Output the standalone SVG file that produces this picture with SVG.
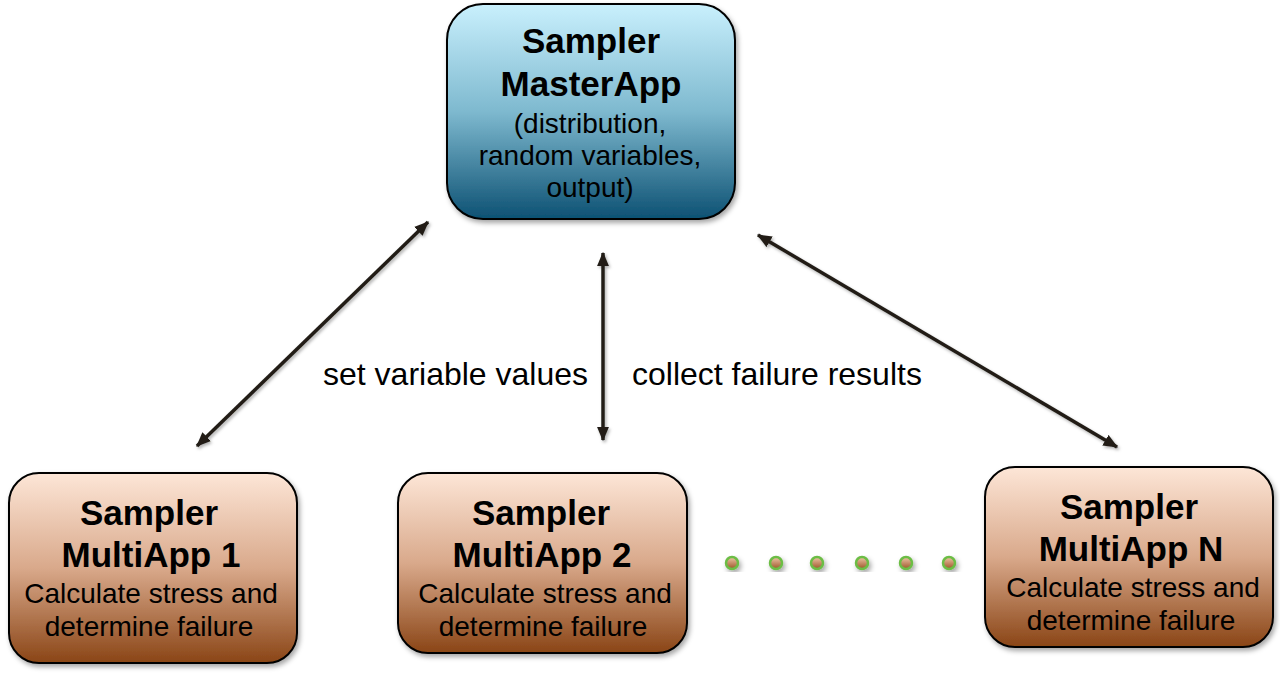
<svg xmlns="http://www.w3.org/2000/svg" width="1280" height="676" viewBox="0 0 1280 676">
  <style>
    .box { stroke: #000; stroke-width: 2; }
    .t { font-family: "Liberation Sans", Arial, sans-serif; fill: #000; text-anchor: middle; }
    .b { font-weight: bold; font-size: 35px; }
    .r { font-size: 28px; }
    .lbl { font-family: "Liberation Sans", Arial, sans-serif; font-size: 32px; fill: #000; }
    .conn { stroke: #221f18; stroke-width: 3.5; fill: none; }
    .dot { stroke: #6cbd45; stroke-width: 2.5; fill: url(#dotg); }
  </style>
  <defs>
    <linearGradient id="blue" x1="0" y1="0" x2="0" y2="1">
      <stop offset="0" stop-color="#c9f0fd"/>
      <stop offset="0.5" stop-color="#7eb9cf"/>
      <stop offset="1" stop-color="#0d5173"/>
    </linearGradient>
    <linearGradient id="brown" x1="0" y1="0" x2="0" y2="1">
      <stop offset="0" stop-color="#fde6d7"/>
      <stop offset="0.5" stop-color="#d9a98b"/>
      <stop offset="1" stop-color="#8a4516"/>
    </linearGradient>
    <linearGradient id="dotg" x1="0" y1="0" x2="0" y2="1">
      <stop offset="0" stop-color="#f0c8a8"/>
      <stop offset="1" stop-color="#9c5428"/>
    </linearGradient>
    <filter id="sh" x="-10%" y="-10%" width="130%" height="130%">
      <feDropShadow dx="2" dy="3" stdDeviation="2.5" flood-color="#000" flood-opacity="0.35"/>
    </filter>
    <filter id="lsh" x="-10%" y="-10%" width="130%" height="130%">
      <feDropShadow dx="1.5" dy="2" stdDeviation="1.5" flood-color="#000" flood-opacity="0.3"/>
    </filter>
    <marker id="ah" viewBox="0 0 12 10" refX="11" refY="5" markerWidth="4.2" markerHeight="3.6" orient="auto-start-reverse" markerUnits="strokeWidth">
      <path d="M0,0 L12,5 L0,10 z" fill="#221f18"/>
    </marker>
  </defs>

  <g id="connectors" filter="url(#lsh)">
    <line class="conn" x1="197" y1="446" x2="428" y2="222" marker-start="url(#ah)" marker-end="url(#ah)"/>
    <line class="conn" x1="603" y1="253" x2="603" y2="440" marker-start="url(#ah)" marker-end="url(#ah)"/>
    <line class="conn" x1="758" y1="235" x2="1117" y2="447" marker-start="url(#ah)" marker-end="url(#ah)"/>
  </g>

  <g id="labels">
    <text class="lbl" x="323" y="385">set variable values</text>
    <text class="lbl" x="632" y="385">collect failure results</text>
  </g>

  <g id="master">
    <rect class="box" x="447" y="4" width="288" height="215" rx="36" fill="url(#blue)" filter="url(#sh)"/>
    <text class="t b" x="591" y="53">Sampler</text>
    <text class="t b" x="591" y="96">MasterApp</text>
    <text class="t r" x="590" y="133">(distribution,</text>
    <text class="t r" x="590" y="165">random variables,</text>
    <text class="t r" x="590" y="197">output)</text>
  </g>

  <g id="multiapp1">
    <rect class="box" x="9" y="473" width="288" height="190" rx="30" fill="url(#brown)" filter="url(#sh)"/>
    <text class="t b" x="149" y="525">Sampler</text>
    <text class="t b" x="151" y="567">MultiApp 1</text>
    <text class="t r" x="151" y="603">Calculate stress and</text>
    <text class="t r" x="149" y="636">determine failure</text>
  </g>

  <g id="multiapp2">
    <rect class="box" x="398" y="473" width="289" height="180" rx="30" fill="url(#brown)" filter="url(#sh)"/>
    <text class="t b" x="541" y="525">Sampler</text>
    <text class="t b" x="542" y="567">MultiApp 2</text>
    <text class="t r" x="545" y="603">Calculate stress and</text>
    <text class="t r" x="543" y="636">determine failure</text>
  </g>

  <g id="multiappN">
    <rect class="box" x="985" y="467" width="288" height="180" rx="30" fill="url(#brown)" filter="url(#sh)"/>
    <text class="t b" x="1129" y="519">Sampler</text>
    <text class="t b" x="1131" y="561">MultiApp N</text>
    <text class="t r" x="1133" y="597">Calculate stress and</text>
    <text class="t r" x="1131" y="630">determine failure</text>
  </g>

  <g id="dots" filter="url(#sh)">
    <circle class="dot" cx="732" cy="563" r="6"/>
    <circle class="dot" cx="776" cy="563" r="6"/>
    <circle class="dot" cx="817" cy="563" r="6"/>
    <circle class="dot" cx="862" cy="563" r="6"/>
    <circle class="dot" cx="906" cy="563" r="6"/>
    <circle class="dot" cx="949" cy="563" r="6"/>
  </g>
</svg>
